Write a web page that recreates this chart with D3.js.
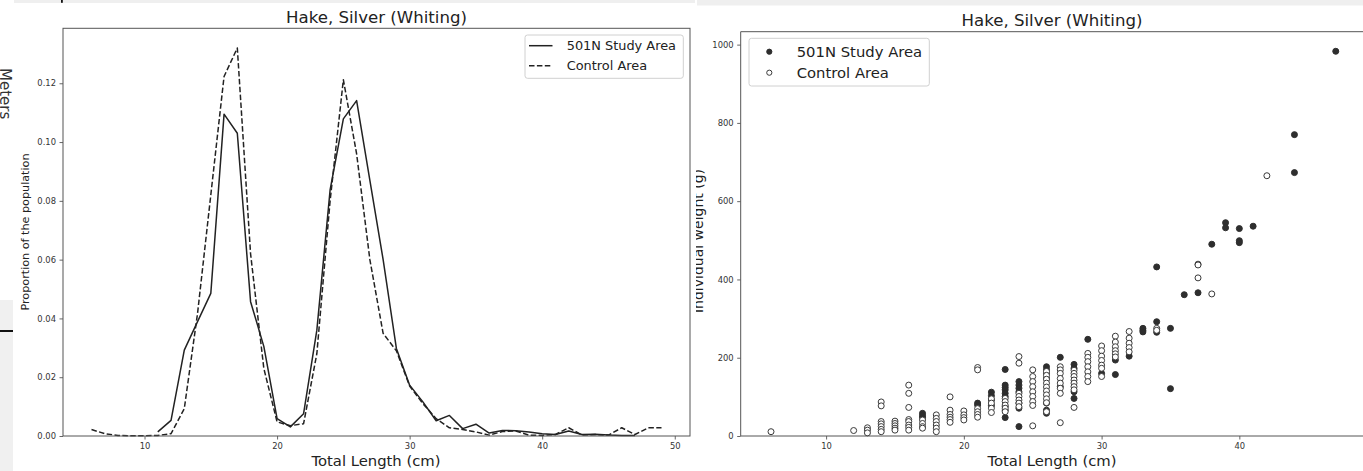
<!DOCTYPE html>
<html>
<head>
<meta charset="utf-8">
<script src="https://cdn.jsdelivr.net/npm/d3@7"></script>
<style>
  body { margin: 0; background: #fff; }
  svg { display: block; font-family: "DejaVu Sans", sans-serif; }
</style>
</head>
<body>
<svg id="chart" width="1363" height="471"></svg>
<script>
// ---- data: length-frequency (left panel) ----
const studyLen = [11, 12, 13, 14, 15, 16, 17, 18, 19, 20, 21, 22, 23, 24, 25, 26, 27, 28, 29,
  30, 31, 32, 33, 34, 35, 36, 37, 38, 39, 40, 41, 42, 43, 44, 45, 46, 47];
const studyProp = [0.0014, 0.0053, 0.0292, 0.0389, 0.0485, 0.1095, 0.103, 0.0457, 0.0305, 0.0059,
  0.0031, 0.0076, 0.036, 0.0837, 0.1079, 0.1141, 0.087, 0.060, 0.0298, 0.0173, 0.0116, 0.0052,
  0.007, 0.0025, 0.004, 0.001, 0.0019, 0.0018, 0.0014, 0.0008, 0.0005, 0.0017, 0.0005, 0.0006,
  0.0003, 0.0002, 0.0002];
const controlLen = [6, 7, 8, 9, 10, 11, 12, 13, 14, 15, 16, 17, 18, 19, 20, 21, 22, 23, 24, 25, 26,
  27, 28, 29, 30, 31, 32, 33, 34, 35, 36, 37, 38, 39, 40, 41, 42, 43, 44, 45, 46, 47, 48, 49];
const controlProp = [0.0022, 0.0008, 0.0002, 0.0001, 0.0001, 0.0002, 0.0008, 0.0093, 0.0417, 0.082,
  0.1223, 0.132, 0.062, 0.023, 0.0048, 0.0035, 0.0042, 0.028, 0.080, 0.1212, 0.096, 0.060, 0.0349,
  0.029, 0.017, 0.011, 0.0059, 0.0028, 0.0022, 0.0014, 0.0003, 0.0015, 0.0017, 0.0003, 0.0002,
  0.0005, 0.0028, 0.0003, 0.0005, 0.0003, 0.0028, 0.0005, 0.0028, 0.0028];

// ---- data: length-weight (right panel), [length cm, weight g] ----
const studyFish = [
  [17, 58], [17, 52], [17, 47],
  [21, 84], [21, 79],
  [22, 112], [22, 103], [22, 92], [22, 78],
  [23, 170], [23, 130], [23, 124], [23, 118], [23, 109], [23, 101], [23, 75], [23, 66], [23, 47],
  [24, 139], [24, 130], [24, 122], [24, 113], [24, 84], [24, 71], [24, 24],
  [26, 177], [26, 169], [26, 160], [26, 147], [26, 84], [26, 66], [26, 58],
  [27, 201], [27, 126],
  [28, 183], [28, 173], [28, 113], [28, 96],
  [29, 247], [30, 160], [31, 194], [31, 157], [32, 204],
  [33, 275], [33, 270], [33, 266],
  [34, 432], [34, 292], [34, 265],
  [35, 275], [35, 121], [36, 361], [37, 366], [38, 490],
  [39, 545], [39, 532], [40, 530], [40, 499], [40, 494], [41, 536],
  [44, 770], [44, 673], [47, 983]
];
const controlFish = [
  [6, 11], [12, 14],
  [13, 21], [13, 15], [13, 8],
  [14, 87], [14, 77], [14, 37], [14, 31], [14, 24], [14, 17], [14, 11],
  [15, 38], [15, 32], [15, 26], [15, 20], [15, 15],
  [16, 130], [16, 109], [16, 73], [16, 42], [16, 37], [16, 28], [16, 22], [16, 15],
  [17, 41], [17, 32], [17, 24], [17, 20],
  [18, 54], [18, 45], [18, 37], [18, 28], [18, 20], [18, 11],
  [19, 100], [19, 66], [19, 55], [19, 48], [19, 42], [19, 35],
  [20, 64], [20, 54], [20, 47], [20, 41],
  [21, 175], [21, 169], [21, 70], [21, 62], [21, 55], [21, 48],
  [22, 95], [22, 84], [22, 71], [22, 60],
  [23, 96], [23, 88], [23, 79], [23, 71], [23, 62],
  [24, 203], [24, 186], [24, 109], [24, 101], [24, 92], [24, 84], [24, 75],
  [25, 169], [25, 152], [25, 139], [25, 126], [25, 113], [25, 101], [25, 88], [25, 78], [25, 26],
  [26, 165], [26, 155], [26, 145], [26, 135], [26, 125], [26, 115], [26, 105], [26, 95], [26, 85], [26, 62],
  [27, 177], [27, 169], [27, 160], [27, 147], [27, 135], [27, 122], [27, 109], [27, 34],
  [28, 168], [28, 160], [28, 152], [28, 143], [28, 135], [28, 126], [28, 118], [28, 73],
  [29, 211], [29, 201], [29, 190], [29, 177], [29, 164], [29, 152], [29, 139],
  [30, 230], [30, 218], [30, 204], [30, 193], [30, 181], [30, 173], [30, 152],
  [31, 255], [31, 240], [31, 228], [31, 218], [31, 210], [31, 202],
  [32, 267], [32, 250], [32, 237], [32, 226], [32, 215],
  [34, 275], [34, 270],
  [37, 439], [37, 437], [37, 404], [38, 363], [42, 665]
];

const seriesNames = ["501N Study Area", "Control Area"];
const title = "Hake, Silver (Whiting)";
const propTicks = [0, 0.02, 0.04, 0.06, 0.08, 0.10, 0.12];
const lenTicksL = [10, 20, 30, 40, 50];
const weightTicks = [0, 200, 400, 600, 800, 1000];
const lenTicksR = [10, 20, 30, 40];

const svg = d3.select("#chart");
const ink = "#222";
const spine = "#555";

// page-screenshot surroundings
svg.append("rect").attr("x", 14).attr("y", 0).attr("width", 681).attr("height", 3).attr("fill", "#efefef");
svg.append("rect").attr("x", 697).attr("y", 0).attr("width", 666).attr("height", 5.5).attr("fill", "#efefef");
svg.append("rect").attr("x", 61).attr("y", 0).attr("width", 1.8).attr("height", 2.8).attr("fill", "#111");
svg.append("rect").attr("x", 0).attr("y", 300).attr("width", 13).attr("height", 171).attr("fill", "#f0f0f0");
svg.append("rect").attr("x", 0).attr("y", 330).attr("width", 13).attr("height", 2).attr("fill", "#111");
svg.append("text").attr("transform", "translate(0,68) rotate(90)")
  .attr("font-size", 15).attr("fill", "#333").text("Meters");

function styleAxis(g) {
  g.select(".domain").remove();
  g.selectAll(".tick line").attr("stroke", spine).attr("stroke-width", 0.9);
  g.selectAll(".tick text").attr("fill", "#333").attr("font-size", 8.4)
    .attr("font-family", "DejaVu Sans, sans-serif");
}

// ================= LEFT PANEL =================
const xL = d3.scaleLinear().domain([3.85, 51.15]).range([63, 690]);
const yL = d3.scaleLinear().domain([0, 0.1387]).range([436, 28.3]);

svg.append("g").attr("transform", "translate(0,436)")
  .call(d3.axisBottom(xL).tickValues(lenTicksL).tickSize(3.5).tickPadding(3.6).tickFormat(d3.format("d")))
  .call(styleAxis);
svg.append("g").attr("transform", "translate(63,0)")
  .call(d3.axisLeft(yL).tickValues(propTicks).tickSize(3.5).tickPadding(3.5).tickFormat(d3.format(".2f")))
  .call(styleAxis);

const lineL = (lens) => d3.line().x((d, i) => xL(lens[i])).y(d => yL(d));
svg.append("path").datum(studyProp).attr("d", lineL(studyLen))
  .attr("fill", "none").attr("stroke", ink).attr("stroke-width", 1.5).attr("stroke-linejoin", "round");
svg.append("path").datum(controlProp).attr("d", lineL(controlLen))
  .attr("fill", "none").attr("stroke", ink).attr("stroke-width", 1.5)
  .attr("stroke-dasharray", "5.5,2.4").attr("stroke-linejoin", "round");

svg.append("rect").attr("x", 63).attr("y", 28.3).attr("width", 627).attr("height", 407.7)
  .attr("fill", "none").attr("stroke", spine).attr("stroke-width", 1);

svg.append("text").attr("x", 376.5).attr("y", 22.5).attr("text-anchor", "middle")
  .attr("font-size", 16.6).attr("fill", ink).text(title);
svg.append("text").attr("x", 376).attr("y", 466).attr("text-anchor", "middle")
  .attr("font-size", 14.8).attr("fill", ink).text("Total Length (cm)");
svg.append("text").attr("transform", "translate(28.5,232) rotate(-90)").attr("text-anchor", "middle")
  .attr("font-size", 11.2).attr("fill", ink).text("Proportion of the population");

// legend (left)
const legL = svg.append("g");
legL.append("rect").attr("x", 525).attr("y", 35).attr("width", 158.3).attr("height", 43.3)
  .attr("rx", 2.5).attr("fill", "#fff").attr("fill-opacity", 0.8).attr("stroke", "#d0d0d0");
seriesNames.forEach((name, i) => {
  const cy = 45.7 + i * 20;
  legL.append("line").attr("x1", 529).attr("x2", 552.5).attr("y1", cy).attr("y2", cy)
    .attr("stroke", ink).attr("stroke-width", 1.5)
    .attr("stroke-dasharray", i === 1 ? "5.5,2.4" : null);
  legL.append("text").attr("x", 566.7).attr("y", cy + 4.7).attr("font-size", 12.9)
    .attr("fill", ink).text(name);
});

// ================= RIGHT PANEL =================
const xR = d3.scaleLinear().domain([3.8, 49.05]).range([740.7, 1364]);
const yR = d3.scaleLinear().domain([0, 1033]).range([436, 31.7]);

svg.append("g").attr("transform", "translate(0,436)")
  .call(d3.axisBottom(xR).tickValues(lenTicksR).tickSize(3.5).tickPadding(3.4).tickFormat(d3.format("d")))
  .call(styleAxis);
svg.append("g").attr("transform", "translate(740.7,0)")
  .call(d3.axisLeft(yR).tickValues(weightTicks).tickSize(3.5).tickPadding(3.5).tickFormat(d3.format("d")))
  .call(styleAxis);

svg.append("g").selectAll("circle").data(studyFish).join("circle")
  .attr("cx", d => xR(d[0])).attr("cy", d => yR(d[1])).attr("r", 3)
  .attr("fill", "#2e2e2e").attr("stroke", "#2e2e2e").attr("stroke-width", 1);
svg.append("g").selectAll("circle").data(controlFish).join("circle")
  .attr("cx", d => xR(d[0])).attr("cy", d => yR(d[1])).attr("r", 3)
  .attr("fill", "#fff").attr("stroke", "#3a3a3a").attr("stroke-width", 1);

svg.append("path").attr("d", "M1364,31.7H740.7V436H1364")
  .attr("fill", "none").attr("stroke", spine).attr("stroke-width", 1);

svg.append("text").attr("x", 1052).attr("y", 26).attr("text-anchor", "middle")
  .attr("font-size", 16.6).attr("fill", ink).text(title);
svg.append("text").attr("x", 1052).attr("y", 466).attr("text-anchor", "middle")
  .attr("font-size", 14.8).attr("fill", ink).text("Total Length (cm)");

// y label of the right figure is cut by the figure's left edge
svg.append("clipPath").attr("id", "cutY").append("rect")
  .attr("x", 696).attr("y", 0).attr("width", 60).attr("height", 471);
svg.append("g").attr("clip-path", "url(#cutY)")
  .append("text")
  .attr("transform", "translate(703.3,241) rotate(-90)").attr("text-anchor", "middle")
  .attr("font-size", 14).attr("fill", ink).text("Individual weight (g)");

// legend (right)
const legR = svg.append("g");
legR.append("rect").attr("x", 749).attr("y", 38.3).attr("width", 180.3).attr("height", 47.7)
  .attr("rx", 2.5).attr("fill", "#fff").attr("fill-opacity", 0.8).attr("stroke", "#d0d0d0");
seriesNames.forEach((name, i) => {
  const cy = 51.7 + i * 21;
  legR.append("circle").attr("cx", 769.3).attr("cy", cy).attr("r", 2.6)
    .attr("fill", i === 0 ? "#2e2e2e" : "#fff").attr("stroke", i === 0 ? "#2e2e2e" : "#3a3a3a");
  legR.append("text").attr("x", 796.7).attr("y", cy + 5.3).attr("font-size", 14.8)
    .attr("fill", ink).text(name);
});
</script>
</body>
</html>
